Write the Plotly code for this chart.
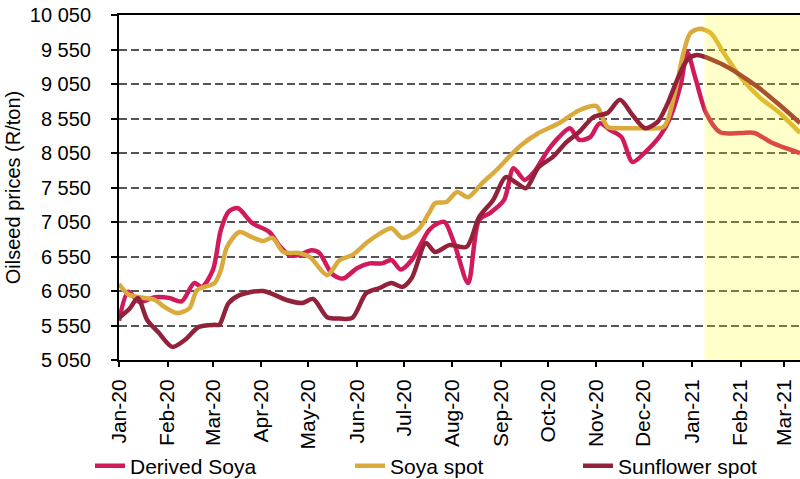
import plotly.graph_objects as go

# Derived Soya
derived_dates = ["2020-01-01", "2020-01-07", "2020-01-14", "2020-01-24", "2020-02-02", "2020-02-10",
                 "2020-02-18", "2020-02-23", "2020-03-01", "2020-03-06", "2020-03-11", "2020-03-17",
                 "2020-03-26", "2020-04-06", "2020-04-13", "2020-04-19", "2020-04-25", "2020-05-03",
                 "2020-05-08", "2020-05-16", "2020-05-23", "2020-06-01", "2020-06-09", "2020-06-17",
                 "2020-06-23", "2020-06-29", "2020-07-06", "2020-07-17", "2020-07-23", "2020-07-27",
                 "2020-08-02", "2020-08-11", "2020-08-18", "2020-08-25", "2020-09-03", "2020-09-09",
                 "2020-09-16", "2020-09-22", "2020-10-01", "2020-10-08", "2020-10-15", "2020-10-21",
                 "2020-10-28", "2020-11-03", "2020-11-10", "2020-11-17", "2020-11-24", "2020-12-02",
                 "2020-12-12", "2020-12-18", "2020-12-25", "2020-12-29", "2021-01-03", "2021-01-10",
                 "2021-01-19", "2021-02-01", "2021-02-10", "2021-02-20", "2021-03-02", "2021-03-11"]
derived_soya = [5620, 6040, 5890, 5960, 5950, 5900,
                6165, 6110, 6355, 6930, 7200, 7250,
                7035, 6905, 6690, 6570, 6570, 6640,
                6600, 6300, 6230, 6380, 6450, 6450,
                6500, 6360, 6500, 6930, 7035, 7050,
                6750, 6165, 7080, 7180, 7370, 7830,
                7660, 7770, 8090, 8280, 8410, 8240,
                8280, 8480, 8380, 8280, 7920, 8060,
                8310, 8560, 9060, 9510, 9150, 8630,
                8350, 8340, 8340, 8210, 8120, 8050]

# Soya spot
soya_dates = ["2020-01-01", "2020-01-07", "2020-01-14", "2020-01-24", "2020-01-30", "2020-02-07",
              "2020-02-15", "2020-02-20", "2020-03-02", "2020-03-06", "2020-03-10", "2020-03-18",
              "2020-03-26", "2020-04-02", "2020-04-08", "2020-04-15", "2020-04-25", "2020-05-02",
              "2020-05-13", "2020-05-21", "2020-05-29", "2020-06-07", "2020-06-14", "2020-06-23",
              "2020-06-30", "2020-07-10", "2020-07-17", "2020-07-21", "2020-07-28", "2020-08-04",
              "2020-08-11", "2020-08-20", "2020-08-29", "2020-09-06", "2020-09-14", "2020-09-25",
              "2020-10-08", "2020-10-21", "2020-11-01", "2020-11-08", "2020-11-16", "2020-11-29",
              "2020-12-14", "2020-12-20", "2020-12-27", "2020-12-31", "2021-01-06", "2021-01-13",
              "2021-01-21", "2021-02-01", "2021-02-13", "2021-02-26", "2021-03-11"]
soya_spot = [6150, 6000, 5960, 5920, 5820, 5730,
             5800, 6065, 6165, 6350, 6690, 6905,
             6830, 6775, 6820, 6615, 6600, 6540,
             6280, 6500, 6570, 6745, 6860, 6960,
             6820, 6935, 7180, 7325, 7340, 7485,
             7410, 7615, 7800, 7990, 8165, 8340,
             8480, 8670, 8730, 8430, 8410, 8410,
             8430, 8820, 9540, 9790, 9850, 9790,
             9510, 9150, 8860, 8630, 8340]

# Sunflower spot
sunflower_dates = ["2020-01-01", "2020-01-08", "2020-01-13", "2020-01-19", "2020-01-26", "2020-02-04",
                   "2020-02-12", "2020-02-21", "2020-03-02", "2020-03-05", "2020-03-11", "2020-03-18",
                   "2020-04-02", "2020-04-17", "2020-04-27", "2020-05-04", "2020-05-13", "2020-05-21",
                   "2020-05-29", "2020-06-07", "2020-06-15", "2020-06-23", "2020-06-30", "2020-07-06",
                   "2020-07-15", "2020-07-21", "2020-07-30", "2020-08-10", "2020-08-18", "2020-08-27",
                   "2020-09-04", "2020-09-11", "2020-09-17", "2020-09-25", "2020-10-04", "2020-10-13",
                   "2020-10-21", "2020-10-30", "2020-11-08", "2020-11-16", "2020-11-24", "2020-12-02",
                   "2020-12-10", "2020-12-16", "2020-12-23", "2020-12-29", "2021-01-04", "2021-01-19",
                   "2021-02-01", "2021-02-13", "2021-02-26", "2021-03-11"]
sunflower_spot = [5660, 5800, 5950, 5630, 5455, 5240,
                  5340, 5530, 5560, 5560, 5875, 5990,
                  6050, 5920, 5875, 5935, 5670, 5650,
                  5660, 6020, 6090, 6165, 6110, 6240,
                  6745, 6615, 6715, 6690, 7120, 7370,
                  7700, 7615, 7540, 7845, 7990, 8210,
                  8355, 8570, 8630, 8820, 8600, 8410,
                  8500, 8745, 9135, 9400, 9470, 9350,
                  9180, 8990, 8745, 8485]

x_range = ["2020-01-01", "2021-03-11"]
forecast_start = "2021-01-09"

series = [
    ("Derived Soya", derived_dates, derived_soya, "#D11A5B", "legend"),
    ("Soya spot", soya_dates, soya_spot, "#DAAA3C", "legend2"),
    ("Sunflower spot", sunflower_dates, sunflower_spot, "#92213A", "legend3"),
]

fig = go.Figure()
for name, dates, vals, col, leg in series:
    fig.add_trace(go.Scatter(x=dates, y=vals, name=name, mode="lines", legend=leg,
                             line=dict(color=col, width=4.5, shape="spline", smoothing=0.8)))

# shaded forecast period, drawn over the lines
fig.add_shape(type="rect", xref="x", yref="paper", x0=forecast_start, x1=x_range[1],
              y0=0, y1=1, fillcolor="rgba(255,255,0,0.21)", line_width=0, layer="above")

font = "Liberation Sans, Arial, sans-serif"
leg_common = dict(orientation="h", xref="container", yref="container", y=0.027,
                  yanchor="middle", xanchor="left", font=dict(size=21),
                  bgcolor="rgba(0,0,0,0)")
fig.update_layout(
    template="none",
    width=800, height=479,
    margin=dict(l=119, r=0, t=15, b=119, autoexpand=False),
    plot_bgcolor="white", paper_bgcolor="white",
    font=dict(family=font, size=20, color="black"),
    separators=". ",
    showlegend=True,
    legend=dict(x=0.1125, **leg_common),
    legend2=dict(x=0.4375, **leg_common),
    legend3=dict(x=0.7225, **leg_common),
    xaxis=dict(type="date", range=x_range, dtick="M1", tick0="2020-01-01",
               tickformat="%b-%y", tickangle=-90, ticks="outside", ticklen=5,
               tickwidth=2, tickcolor="black", showline=True, linecolor="black",
               linewidth=2, mirror=True, showgrid=False, zeroline=False,
               automargin=False, tickfont=dict(size=21), ticklabelstandoff=4),
    yaxis=dict(range=[5050, 10050], tick0=5050, dtick=500, tickformat=",d",
               ticks="outside", ticklen=6, tickwidth=2, tickcolor="black",
               showline=True, linecolor="black", linewidth=2, automargin=False,
               showgrid=True, gridcolor="#555555", gridwidth=1.5, griddash="8px,4px",
               zeroline=False, tickfont=dict(size=20), ticklabelstandoff=16,
               title=dict(text="Oilseed prices (R/ton)", standoff=4, font=dict(size=20))),
)

# drop the page's default body margin so the figure sits at the window corner
fig.write_html("out.html", config={"displayModeBar": False},
               post_script="document.body.style.margin = '0';")
